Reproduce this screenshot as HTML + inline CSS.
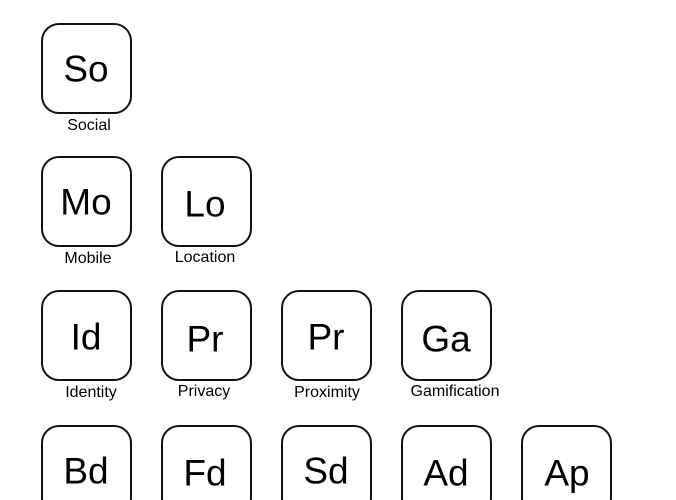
<!DOCTYPE html>
<html><head><meta charset="utf-8"><style>
html,body{margin:0;padding:0;background:#fff;width:676px;height:500px;overflow:hidden;position:relative;font-family:"Liberation Sans","DejaVu Sans",sans-serif;color:#000}
.box{position:absolute;width:87px;height:87px;border:2px solid #111;border-radius:18px;box-sizing:content-box}
.sym{position:absolute;font-size:37px;line-height:1;transform:translate(-50%,-50%);white-space:nowrap}
.lab{position:absolute;font-size:16px;line-height:1;transform:translate(-50%,-50%);white-space:nowrap}
</style></head><body>
<div class="box" style="left:41px;top:23px"></div>
<div class="sym" style="left:86px;top:69px">So</div>
<div class="lab" style="left:89px;top:126px">Social</div>

<div class="box" style="left:41px;top:156px"></div>
<div class="sym" style="left:86px;top:202px">Mo</div>
<div class="lab" style="left:88px;top:259px">Mobile</div>
<div class="box" style="left:161px;top:156px"></div>
<div class="sym" style="left:205px;top:204px">Lo</div>
<div class="lab" style="left:205px;top:258px">Location</div>

<div class="box" style="left:41px;top:290px"></div>
<div class="sym" style="left:86px;top:337px">Id</div>
<div class="lab" style="left:91px;top:393px">Identity</div>
<div class="box" style="left:161px;top:290px"></div>
<div class="sym" style="left:205px;top:339px">Pr</div>
<div class="lab" style="left:204px;top:392px">Privacy</div>
<div class="box" style="left:281px;top:290px"></div>
<div class="sym" style="left:326px;top:337px">Pr</div>
<div class="lab" style="left:327px;top:393px">Proximity</div>
<div class="box" style="left:401px;top:290px"></div>
<div class="sym" style="left:446px;top:339px">Ga</div>
<div class="lab" style="left:455px;top:392px">Gamification</div>

<div class="box" style="left:41px;top:425px"></div>
<div class="sym" style="left:86px;top:471px">Bd</div>
<div class="box" style="left:161px;top:425px"></div>
<div class="sym" style="left:205px;top:473px">Fd</div>
<div class="box" style="left:281px;top:425px"></div>
<div class="sym" style="left:326px;top:471px">Sd</div>
<div class="box" style="left:401px;top:425px"></div>
<div class="sym" style="left:446px;top:473px">Ad</div>
<div class="box" style="left:521px;top:425px"></div>
<div class="sym" style="left:567px;top:473px">Ap</div>
</body></html>
